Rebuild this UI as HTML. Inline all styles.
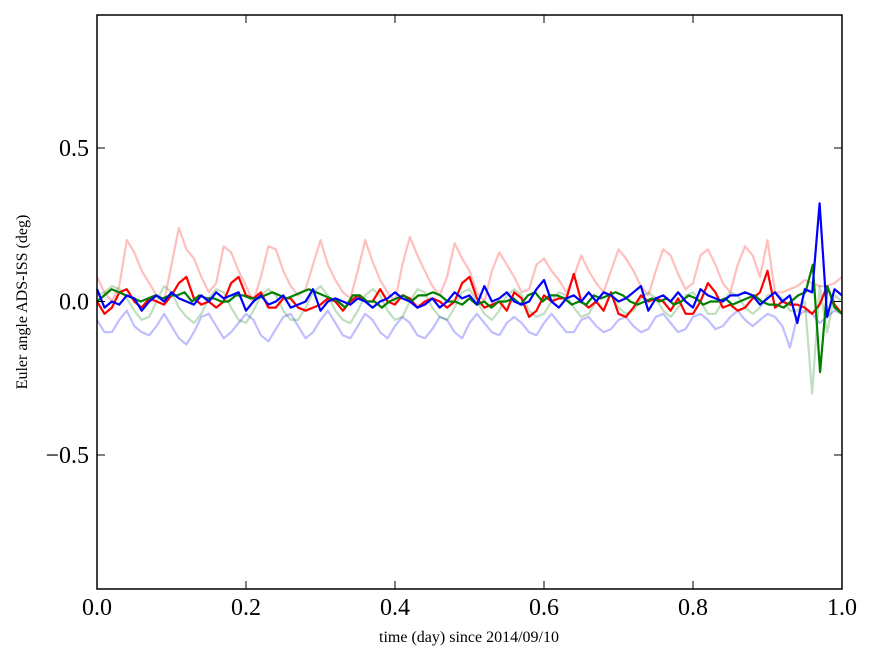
<!DOCTYPE html>
<html><head><meta charset="utf-8"><style>
body{margin:0;background:#fff}
svg{display:block;font-family:"Liberation Serif",serif}
</style></head><body>
<svg id="chart" width="875" height="662">
<rect width="875" height="662" fill="#fff"/>
<g id="series"></g>
<rect x="97" y="15" width="745" height="574" fill="none" stroke="#000" stroke-width="1.5"/>
<g id="ticks"></g>
<text x="469" y="642" font-size="16" text-anchor="middle">time (day) since 2014/09/10</text>
<text transform="translate(27,302) rotate(-90)" font-size="16" text-anchor="middle">Euler angle ADS-ISS (deg)</text>
</svg>
<script>
const xTicks=[0,0.2,0.4,0.6,0.8,1.0];
const xTickLabels=["0.0","0.2","0.4","0.6","0.8","1.0"];
const yTicks=[0.5,0,-0.5];
const yTickLabels=["0.5","0.0","\u22120.5"];
const lightRed=[0.08,0.03,0.0,0.05,0.2,0.16,0.1,0.06,0.02,0.0,0.12,0.24,0.17,0.14,0.08,0.03,0.06,0.18,0.16,0.1,0.05,0.0,0.08,0.18,0.17,0.1,0.05,0.02,0.04,0.12,0.2,0.12,0.07,0.03,0.01,0.1,0.2,0.13,0.07,0.03,0.0,0.12,0.21,0.15,0.1,0.05,0.02,0.08,0.19,0.14,0.1,0.03,0.0,0.1,0.16,0.12,0.08,0.03,0.04,0.12,0.14,0.1,0.07,0.03,0.08,0.15,0.1,0.06,0.03,0.1,0.17,0.14,0.1,0.05,0.02,0.1,0.17,0.15,0.09,0.04,0.06,0.15,0.17,0.12,0.06,0.03,0.12,0.18,0.15,0.08,0.2,0.03,0.03,0.04,0.05,0.07,0.06,0.05,0.05,0.06,0.08];
const lightBlue=[-0.06,-0.1,-0.1,-0.06,-0.03,-0.08,-0.1,-0.11,-0.08,-0.04,-0.08,-0.12,-0.14,-0.1,-0.05,-0.04,-0.08,-0.12,-0.1,-0.07,-0.04,-0.06,-0.11,-0.13,-0.09,-0.05,-0.04,-0.08,-0.12,-0.1,-0.06,-0.03,-0.07,-0.11,-0.12,-0.08,-0.04,-0.06,-0.1,-0.12,-0.08,-0.05,-0.07,-0.11,-0.12,-0.09,-0.05,-0.06,-0.1,-0.12,-0.07,-0.04,-0.07,-0.1,-0.11,-0.07,-0.05,-0.07,-0.1,-0.11,-0.07,-0.04,-0.07,-0.1,-0.1,-0.06,-0.05,-0.08,-0.1,-0.09,-0.06,-0.05,-0.08,-0.1,-0.09,-0.05,-0.04,-0.07,-0.1,-0.09,-0.05,-0.04,-0.06,-0.09,-0.08,-0.05,-0.03,-0.06,-0.08,-0.06,-0.04,-0.05,-0.08,-0.15,-0.05,-0.03,-0.04,-0.07,-0.05,-0.03,-0.04];
const lightGreen=[0.02,0.03,0.05,0.04,0.01,-0.03,-0.06,-0.05,0.0,0.05,0.03,-0.02,-0.05,-0.07,-0.04,0.01,0.04,0.03,-0.02,-0.06,-0.07,-0.03,0.02,0.04,0.02,-0.03,-0.06,-0.06,-0.02,0.03,0.05,0.02,-0.03,-0.06,-0.07,-0.03,0.02,0.04,0.02,-0.03,-0.06,-0.05,0.0,0.04,0.03,-0.02,-0.05,-0.06,-0.02,0.03,0.04,0.0,-0.04,-0.06,-0.03,0.02,0.04,0.02,-0.03,-0.05,-0.04,0.0,0.03,0.02,-0.02,-0.05,-0.04,0.0,0.03,0.02,-0.02,-0.04,-0.03,0.01,0.03,0.01,-0.03,-0.05,-0.02,0.02,0.03,0.0,-0.04,-0.04,0.0,0.03,0.02,-0.02,-0.04,-0.02,0.02,0.03,0.01,-0.03,-0.03,0.0,-0.3,0.05,-0.1,0.02,0.0];
const red=[0.0,-0.04,-0.02,0.03,0.04,0.0,-0.02,0.01,0.0,-0.01,0.02,0.06,0.08,0.01,-0.01,0.0,-0.02,0.0,0.06,0.08,0.02,0.01,0.03,-0.02,-0.02,0.01,0.01,-0.02,-0.03,-0.02,-0.01,0.01,0.0,-0.03,0.0,0.02,0.0,0.0,0.04,0.0,-0.01,0.02,0.01,-0.02,0.0,0.01,0.0,-0.02,0.0,0.06,0.08,0.01,-0.02,-0.01,0.0,-0.03,0.03,0.01,-0.05,-0.03,0.02,0.0,0.01,0.01,0.09,0.0,-0.02,0.0,-0.03,0.03,-0.04,-0.05,-0.02,0.02,0.0,0.01,0.0,-0.03,0.01,-0.04,-0.04,0.0,0.06,0.03,-0.02,-0.01,-0.03,-0.02,0.01,0.03,0.1,-0.02,0.0,-0.01,-0.01,-0.02,-0.04,-0.01,0.05,-0.01,-0.04];
const green=[0.0,0.02,0.04,0.03,0.02,0.01,0.0,0.01,0.02,0.01,0.02,0.02,0.03,0.0,0.02,0.01,0.01,0.0,0.0,0.02,0.02,0.01,0.01,0.02,0.03,0.02,0.01,0.02,0.03,0.04,0.03,0.02,0.01,0.0,-0.02,0.02,0.02,0.0,0.0,-0.02,0.0,0.01,0.02,0.0,0.02,0.02,0.03,0.02,0.0,0.0,-0.01,0.01,-0.01,0.0,-0.02,0.0,0.0,0.01,-0.01,0.02,0.03,0.0,0.02,0.02,0.01,-0.01,0.0,-0.01,0.02,0.01,0.02,0.03,0.02,0.0,-0.01,0.0,0.01,0.0,0.01,-0.01,0.0,0.02,0.01,-0.01,0.0,0.0,0.01,-0.01,0.0,0.01,0.02,0.0,-0.01,-0.01,-0.02,0.0,0.02,0.03,0.12,-0.23,0.05,-0.02,-0.04];
const blue=[0.04,-0.02,0.0,-0.01,0.02,0.01,-0.03,0.0,0.02,0.0,0.03,0.01,0.0,-0.01,0.02,0.0,0.03,0.01,0.02,0.03,-0.03,0.0,0.02,-0.01,0.0,0.02,-0.02,-0.01,0.0,0.04,-0.03,0.0,0.01,0.0,-0.01,0.01,0.0,-0.02,0.0,0.01,0.03,0.01,0.0,-0.02,-0.01,0.01,-0.02,0.0,0.03,0.01,0.02,-0.01,0.05,0.0,0.01,0.03,0.0,-0.01,0.0,0.04,0.07,0.0,-0.02,0.01,0.02,0.0,0.03,0.0,0.03,0.02,0.0,0.01,0.03,0.05,-0.03,0.01,0.02,0.0,0.03,0.0,-0.02,0.04,0.02,0.01,0.0,0.02,0.02,0.03,0.02,-0.01,0.01,0.03,0.0,0.02,-0.07,0.04,0.03,0.32,-0.05,0.04,0.02];

const X0=97,X1=842,Y0=301.5,SC=307;
function xs(v){return X0+v*(X1-X0);}
function ys(v){return Y0-v*SC;}
const NS="http://www.w3.org/2000/svg";
const sg=document.getElementById('series');
function drawLine(data,color,op,name){
  const n=data.length;
  const pts=data.map((v,i)=>xs(i/(n-1)).toFixed(1)+","+ys(v).toFixed(1)).join(" ");
  const p=document.createElementNS(NS,'polyline');
  p.setAttribute('points',pts);
  p.setAttribute('fill','none');
  p.setAttribute('stroke',color);
  p.setAttribute('stroke-opacity',op);
  p.setAttribute('stroke-width','2.2');
  p.setAttribute('stroke-linejoin','round');
  
  
  sg.appendChild(p);
}
drawLine(lightRed,'#f00',0.25,'light-red-series');
drawLine(lightBlue,'#00f',0.25,'light-blue-series');
drawLine(lightGreen,'#008000',0.25,'light-green-series');
drawLine(red,'#f00',1,'red-series');
drawLine(green,'#008000',1,'green-series');
drawLine(blue,'#00f',1,'blue-series');

const tg=document.getElementById('ticks');
function mk(tag,attrs){const e=document.createElementNS(NS,tag);for(const k in attrs)e.setAttribute(k,attrs[k]);tg.appendChild(e);return e;}
xTicks.forEach((t,i)=>{
  const x=xs(t);
  const a=mk('line',{x1:x,x2:x,y1:589,y2:581,stroke:'#000'});
  
  
  const b=mk('line',{x1:x,x2:x,y1:15,y2:23,stroke:'#000'});
  
  
  const tx=mk('text',{x:x,y:615,'font-size':24,'text-anchor':'middle'});
  tx.textContent=xTickLabels[i];
  
  
});
yTicks.forEach((t,i)=>{
  const y=ys(t);
  const a=mk('line',{x1:97,x2:105,y1:y,y2:y,stroke:'#000'});
  
  
  const b=mk('line',{x1:834,x2:842,y1:y,y2:y,stroke:'#000'});
  
  
  const tx=mk('text',{x:89,y:y+8,'font-size':24,'text-anchor':'end'});
  tx.textContent=yTickLabels[i];
  
  
});
</script>
</body></html>
